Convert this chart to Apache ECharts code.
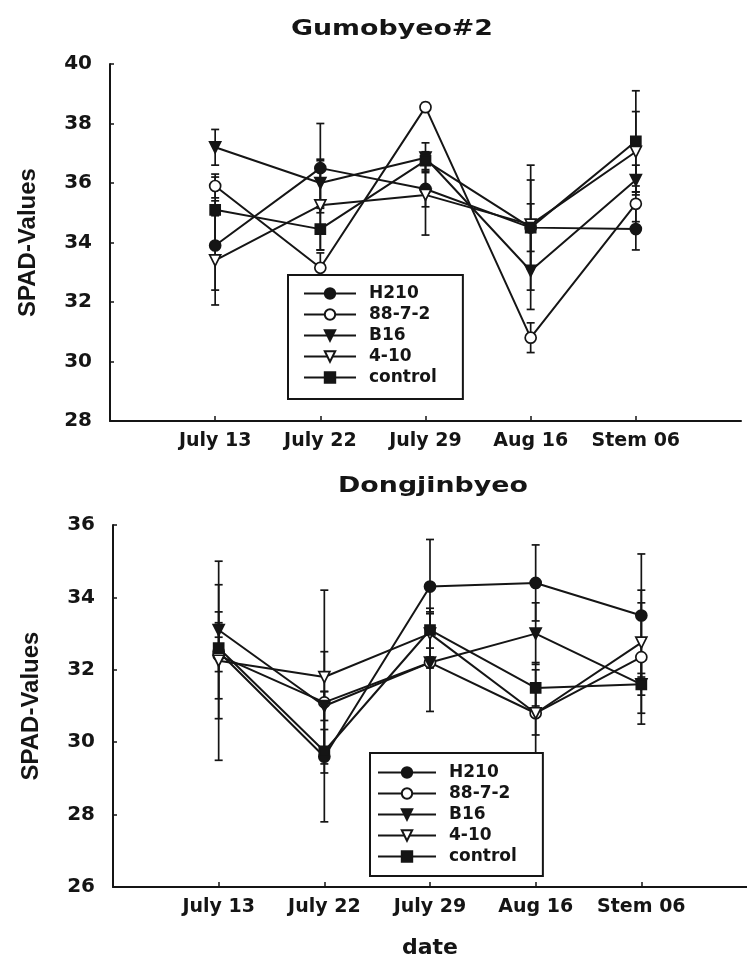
<!DOCTYPE html>
<html>
<head>
<meta charset="utf-8">
<script src="https://cdn.jsdelivr.net/npm/echarts@6/dist/echarts.min.js"></script>
<style>
  html, body { margin: 0; padding: 0; background: #fff; }
  #chart { width: 747px; height: 963px; }
</style>
</head>
<body>
<div id="chart"></div>
<script>
// Sampling dates (x categories) and cultivar lines
const dates = ['July 13', 'July 22', 'July 29', 'Aug 16', 'Stem 06'];
const lineNames = ['H210', '88-7-2', 'B16', '4-10', 'control'];

// Gumobyeo#2: mean SPAD values per date
const gumoH210    = [33.9, 36.5, 35.8, 34.5, 34.45];
const gumo88      = [35.9, 33.15, 38.55, 30.8, 35.3];
const gumoB16     = [37.2, 36.0, 36.85, 33.05, 36.1];
const gumo410     = [33.4, 35.25, 35.6, 34.6, 37.05];
const gumoControl = [35.1, 34.45, 36.75, 34.5, 37.4];
// Gumobyeo#2: error bar half-widths
const gumoH210Err    = [1.5, 1.5, 0.6, 2.1, 0.7];
const gumo88Err      = [0.4, 0.5, 0.15, 0.5, 0.6];
const gumoB16Err     = [0.6, 0.8, 0.5, 1.3, 0.5];
const gumo410Err     = [1.5, 1.5, 1.35, 1.5, 1.35];
const gumoControlErr = [1.1, 0.7, 0.3, 0.8, 1.7];

// Dongjinbyeo: mean SPAD values per date
const dongH210    = [32.5, 29.6, 34.3, 34.4, 33.5];
const dong88      = [32.4, 31.1, 32.2, 30.8, 32.35];
const dongB16     = [33.1, 31.0, 32.2, 33.0, 31.6];
const dong410     = [32.25, 31.8, 33.0, 30.8, 32.75];
const dongControl = [32.6, 29.75, 33.1, 31.5, 31.6];
// Dongjinbyeo: error bar half-widths
const dongH210Err    = [1.85, 1.8, 1.3, 1.05, 1.7];
const dong88Err      = [1.2, 1.4, 1.35, 1.4, 1.85];
const dongB16Err     = [0.2, 0.4, 0.15, 0.85, 0.3];
const dong410Err     = [2.75, 2.4, 0.7, 0.6, 1.1];
const dongControlErr = [0.65, 0.6, 0.5, 0.5, 0.8];

// Y axis tick ranges
const gumoTicks = { min: 28, max: 40, step: 2 };
const dongTicks = { min: 26, max: 36, step: 2 };

const INK = '#151515';
const FONT = 'DejaVu Sans';

const markers = {
  'H210':    { symbol: 'circle',   size: 11, rotate: 0,   fill: INK },
  '88-7-2':  { symbol: 'circle',   size: 11, rotate: 0,   fill: '#fff' },
  'B16':     { symbol: 'triangle', size: 11, rotate: 180, fill: INK },
  '4-10':    { symbol: 'triangle', size: 11, rotate: 180, fill: '#fff' },
  'control': { symbol: 'rect',     size: 10, rotate: 0,   fill: INK }
};

const panels = [
  {
    title: 'Gumobyeo#2',
    ticks: gumoTicks,
    means: [gumoH210, gumo88, gumoB16, gumo410, gumoControl],
    errs: [gumoH210Err, gumo88Err, gumoB16Err, gumo410Err, gumoControlErr],
    grid: { left: 110, top: 64, width: 631, height: 357 },
    legend: { left: 288, top: 275, itemWidth: 52, padding: [9, 26, 12, 15] },
    titlePos: [392, 29],
    xName: ''
  },
  {
    title: 'Dongjinbyeo',
    ticks: dongTicks,
    means: [dongH210, dong88, dongB16, dong410, dongControl],
    errs: [dongH210Err, dong88Err, dongB16Err, dong410Err, dongControlErr],
    grid: { left: 113, top: 525, width: 634, height: 362 },
    legend: { left: 370, top: 753, itemWidth: 58, padding: [10, 26, 10, 7] },
    titlePos: [433, 486],
    xName: 'date'
  }
];

// Vertical error bar with short caps
function errorBar(params, api) {
  const x = api.value(0);
  const lo = api.coord([x, api.value(1)]);
  const hi = api.coord([x, api.value(2)]);
  const w = 4;
  const st = { stroke: INK, lineWidth: 1.7 };
  return {
    type: 'group',
    children: [
      { type: 'line', shape: { x1: hi[0], y1: hi[1], x2: lo[0], y2: lo[1] }, style: st },
      { type: 'line', shape: { x1: hi[0] - w, y1: hi[1], x2: hi[0] + w, y2: hi[1] }, style: st },
      { type: 'line', shape: { x1: lo[0] - w, y1: lo[1], x2: lo[0] + w, y2: lo[1] }, style: st }
    ]
  };
}

const grids = [], xAxes = [], yAxes = [], legends = [], series = [], graphics = [];
const positions = dates.map((d, k) => k + 1);

panels.forEach((p, gi) => {
  grids.push(Object.assign({ containLabel: false }, p.grid));

  xAxes.push({
    type: 'value', gridIndex: gi, min: 0, max: dates.length + 1, interval: 1,
    name: p.xName, nameLocation: 'middle', nameGap: 50,
    nameTextStyle: { color: INK, fontFamily: FONT, fontWeight: 'bold', fontSize: 22 },
    axisLine: { lineStyle: { color: INK, width: 2 } },
    axisTick: { inside: true, length: 5, customValues: positions, lineStyle: { color: INK, width: 1.5 } },
    axisLabel: {
      customValues: positions, margin: 11,
      color: INK, fontFamily: FONT, fontWeight: 'bold', fontSize: 19,
      formatter: v => dates[v - 1] || ''
    },
    splitLine: { show: false }
  });

  yAxes.push({
    type: 'value', gridIndex: gi, min: p.ticks.min, max: p.ticks.max, interval: p.ticks.step,
    name: 'SPAD-Values', nameLocation: 'middle', nameGap: 70, nameRotate: 90,
    nameTextStyle: { color: INK, fontFamily: 'Liberation Sans', fontWeight: 'bold', fontSize: 24 },
    axisLine: { show: true, lineStyle: { color: INK, width: 2 } },
    axisTick: { show: true, inside: true, length: 4, lineStyle: { color: INK, width: 1.5 } },
    axisLabel: { margin: 18, color: INK, fontFamily: FONT, fontWeight: 'bold', fontSize: 20 },
    splitLine: { show: false }
  });

  legends.push({
    data: lineNames, orient: 'vertical',
    left: p.legend.left, top: p.legend.top,
    itemWidth: p.legend.itemWidth, itemHeight: 13, itemGap: 2,
    padding: p.legend.padding,
    backgroundColor: '#fff', borderColor: INK, borderWidth: 2, borderRadius: 0,
    selectedMode: false,
    textStyle: { color: INK, fontFamily: FONT, fontWeight: 'bold', fontSize: 17, lineHeight: 19, padding: [0, 0, 0, 8] }
  });

  lineNames.forEach((name, i) => {
    const m = markers[name];
    const means = p.means[i];
    const errs = p.errs[i];
    series.push({
      type: 'custom', xAxisIndex: gi, yAxisIndex: gi, silent: true, z: 2,
      renderItem: errorBar, encode: { x: 0, y: [1, 2] },
      data: means.map((v, k) => [k + 1, v - errs[k], v + errs[k]])
    });
    series.push({
      type: 'line', name: name, xAxisIndex: gi, yAxisIndex: gi, z: 3,
      data: means.map((v, k) => [k + 1, v]),
      symbol: m.symbol, symbolSize: m.size, symbolRotate: m.rotate, showAllSymbol: true,
      lineStyle: { color: INK, width: 2 },
      itemStyle: { color: m.fill, borderColor: INK, borderWidth: 1.7 },
      emphasis: { disabled: true }
    });
  });

  graphics.push({
    type: 'text', x: p.titlePos[0], y: p.titlePos[1], scaleX: 1.22,
    style: {
      text: p.title, fill: INK, fontFamily: FONT, fontWeight: 'bold', fontSize: 22,
      textAlign: 'center', textVerticalAlign: 'middle'
    }
  });
});

const chart = echarts.init(document.getElementById('chart'));
chart.setOption({
  animation: false,
  backgroundColor: '#fff',
  grid: grids,
  xAxis: xAxes,
  yAxis: yAxes,
  legend: legends,
  series: series,
  graphic: graphics
});
</script>
</body>
</html>
